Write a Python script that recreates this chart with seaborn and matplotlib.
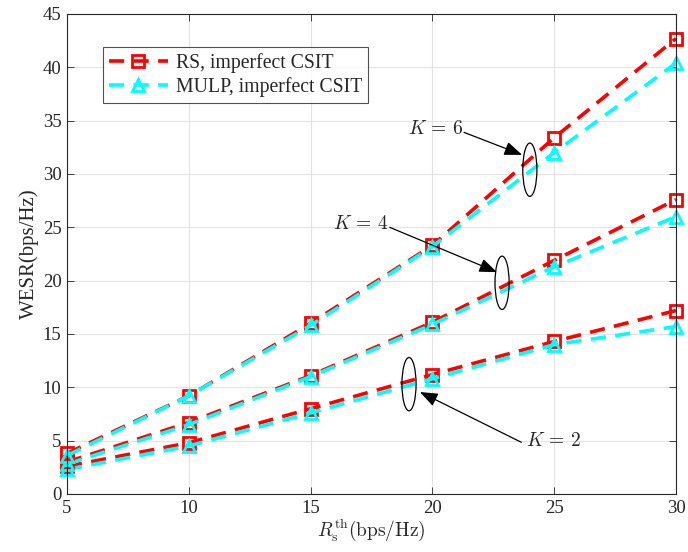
import numpy as np
import pandas as pd
import matplotlib
matplotlib.use("Agg")
import matplotlib.pyplot as plt
from matplotlib.patches import Ellipse
from matplotlib.lines import Line2D
import seaborn as sns

# ---- data ----
rth = [5, 10, 15, 20, 25, 30]
rs_k2 = [2.6, 4.8, 8.0, 11.2, 14.3, 17.2]
mulp_k2 = [2.3, 4.5, 7.6, 10.8, 14.0, 15.7]
rs_k4 = [3.0, 6.7, 11.1, 16.1, 21.9, 27.6]
mulp_k4 = [2.8, 6.5, 11.0, 15.9, 21.3, 26.0]
rs_k6 = [3.8, 9.2, 16.0, 23.3, 33.4, 42.7]
mulp_k6 = [3.6, 9.2, 15.8, 23.2, 32.0, 40.4]
legend_labels = ["RS, imperfect CSIT", "MULP, imperfect CSIT"]

sns.set_theme(style="whitegrid")
plt.rcParams["font.family"] = ["Liberation Serif", "DejaVu Serif"]
plt.rcParams["mathtext.fontset"] = "cm"

fig = plt.figure(figsize=(6.88, 5.52), dpi=100)
ax = fig.add_axes([67 / 688, 1 - 494 / 552, 609 / 688, 480 / 552])

MS, MEW, LW, DASH = 8, 2.0, 2.6, [4.2, 2.6]

series = [
    (rs_k2, "red", "s"), (mulp_k2, "cyan", "^"),
    (rs_k4, "red", "s"), (mulp_k4, "cyan", "^"),
    (rs_k6, "red", "s"), (mulp_k6, "cyan", "^"),
]
for vals, col, mk in series:
    df = pd.DataFrame({"x": rth, "y": vals})
    sns.lineplot(data=df, x="x", y="y", ax=ax, color=col, marker=mk,
                 markersize=MS, markerfacecolor="none", markeredgecolor=col,
                 markeredgewidth=MEW, linewidth=LW, legend=False)
    ln = ax.lines[-1]
    ln.set_dashes(DASH)
    ln.set_clip_on(False)

ax.set_xlim(5, 30)
ax.set_ylim(0, 45)
ax.set_xticks([5, 10, 15, 20, 25, 30])
ax.set_yticks(range(0, 46, 5))
ax.grid(True, color="#e3e3e3", linewidth=0.8)
ax.set_facecolor("white")
for s in ax.spines.values():
    s.set_visible(True)
    s.set_color("#262626")
    s.set_linewidth(0.8)
ax.tick_params(direction="in", length=5, width=0.6, color="#262626",
               labelsize=13.5, labelcolor="#262626", top=True, right=True,
               bottom=True, left=True, pad=4)
ax.set_xlabel(r"$R_{\rm s}^{\rm th}{\rm (bps/Hz)}$", fontsize=14, labelpad=1,
              color="#262626")
ax.set_ylabel("WESR(bps/Hz)", fontsize=15, labelpad=3, color="#262626")

# legend
handles = [
    Line2D([], [], color="red", marker="s", markersize=MS, markerfacecolor="none",
           markeredgewidth=MEW, linewidth=LW, dashes=DASH),
    Line2D([], [], color="cyan", marker="^", markersize=MS, markerfacecolor="none",
           markeredgewidth=MEW, linewidth=LW, dashes=DASH),
]
leg = ax.legend(handles, legend_labels, loc="upper left",
                bbox_to_anchor=(0.059, 0.931), borderaxespad=0,
                fontsize=14.2, frameon=True, fancybox=False, handlelength=3.0,
                borderpad=0.3, labelspacing=0.2, handletextpad=0.4)
leg.get_frame().set_edgecolor("#262626")
leg.get_frame().set_linewidth(0.8)

# annotations
ell_w, ell_h = 0.58, 5.0
for cx, cy in [(24.0, 30.4), (22.86, 19.8), (19.04, 10.3)]:
    ax.add_patch(Ellipse((cx, cy), ell_w, ell_h, fill=False, edgecolor="black",
                         linewidth=0.9, zorder=5))

arrowprops = dict(arrowstyle="-|>,head_length=0.9,head_width=0.35",
                  color="black", linewidth=0.9, shrinkA=0, shrinkB=0)
ax.annotate("", xy=(23.68, 31.8), xytext=(21.3, 33.9), arrowprops=arrowprops)
ax.annotate("", xy=(22.65, 20.8), xytext=(18.25, 25.0), arrowprops=arrowprops)
ax.annotate("", xy=(19.49, 9.56), xytext=(23.65, 4.85), arrowprops=arrowprops)
ax.text(20.15, 34.2, r"$K\,=\,6$", fontsize=14, ha="center", va="center")
ax.text(17.05, 25.3, r"$K\,=\,4$", fontsize=14, ha="center", va="center")
ax.text(24.95, 5.0, r"$K\,=\,2$", fontsize=14, ha="center", va="center")

fig.savefig("out.png", dpi=100)
